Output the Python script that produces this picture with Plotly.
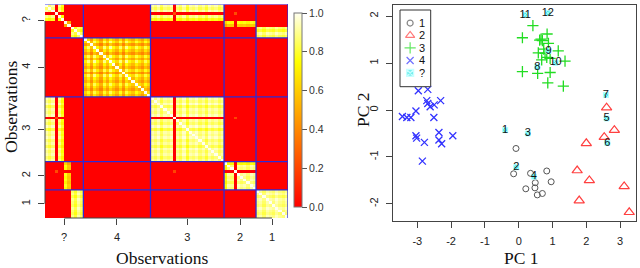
import numpy as np
import plotly.graph_objects as go

# ---------------- heatmap data (co-clustering similarity) ----------------
hm_groups = ["?", "4", "3", "2", "1"]
hm_sizes = [12, 21, 23, 10, 10]
clusters = ["1", "2", "3", "4", "odd"]

# main cluster + membership strength of every observation, heatmap order
unknown_main = ["3", "3", "3", "odd", "3", "3", "2", "2", "1", "1", "1", "1"]
unknown_strength = [0.96, 0.90, 0.97, 0.0, 0.93, 0.80, 0.80, 0.62, 0.92, 0.84, 0.96, 0.88]
g4_strength = [0.72, 0.90, 0.62, 0.95, 0.78, 0.60, 0.92, 0.70, 0.97, 0.80, 0.66,
               0.90, 0.62, 0.94, 0.78, 0.68, 0.88, 0.75, 0.64, 0.86, 0.72]
g3_strength = [0.97, 0.92, 0.99, 0.88, 0.96, 0.93, 0.98, 0.0, 0.95, 0.90, 0.99, 0.86,
               0.97, 0.94, 0.99, 0.91, 0.96, 0.88, 0.98, 0.93, 0.97, 0.90, 0.95]
g2_strength = [0.78, 0.95, 0.92, 0.0, 0.97, 0.93, 0.96, 0.90, 0.98, 0.94]
g1_strength = [0.93, 0.97, 0.90, 0.98, 0.95, 0.92, 0.99, 0.94, 0.91, 0.96]
# three atypical observations sharing a weak common membership
odd_obs = [3, 12 + 21 + 7, 12 + 21 + 23 + 3]
odd_strength = [0.50, 0.45, 0.45]

# ---------------- PCA scatter data ----------------
g1_x = [-0.08, -0.15, 0.35, 0.83, 0.49, 0.96, 0.48, 0.21, 0.55, 0.70]
g1_y = [-0.82, -1.36, -1.35, -1.30, -1.55, -1.53, -1.66, -1.68, -1.81, -1.78]
g2_x = [2.60, 2.83, 2.53, 2.00, 1.73, 2.09, 3.12, 1.79, 3.27]
g2_y = [0.05, -0.43, -0.58, -0.71, -1.29, -1.50, -1.63, -1.93, -2.18]
g3_x = [0.42, 0.11, 0.66, 0.70, 0.84, 0.62, 0.88, 0.58, 0.78, 1.17, 0.83, 1.37,
        0.68, 0.93, 0.11, 0.56, 0.93, 0.86, 1.32, 0.74]
g3_y = [1.80, 1.54, 1.51, 1.48, 1.62, 1.49, 1.42, 1.22, 1.21, 1.26, 1.12, 1.04,
        1.07, 1.10, 0.82, 0.78, 0.80, 0.58, 0.51, 1.30]
g4_x = [-2.97, -2.69, -2.72, -2.62, -2.50, -2.31, -2.69, -3.44, -3.31, -3.19, -3.04,
        -2.51, -3.04, -3.02, -2.79, -2.36, -2.36, -2.28, -1.95, -2.85]
g4_y = [0.41, 0.44, 0.20, 0.07, 0.11, 0.20, 0.14, -0.14, -0.16, -0.16, -0.02,
        -0.16, -0.55, -0.60, -0.69, -0.48, -0.64, -0.72, -0.55, -1.09]
unk_labels = ["1", "2", "3", "4", "5", "6", "7", "8", "9", "10", "11", "12"]
unk_x = [-0.40, -0.07, 0.27, 0.45, 2.60, 2.62, 2.58, 0.55, 0.88, 1.09, 0.19, 0.86]
unk_y = [-0.43, -1.22, -0.50, -1.42, -0.18, -0.70, 0.32, 0.92, 1.26, 1.01, 2.03, 2.07]

legend_labels = ["1", "2", "3", "4", "?"]

# ---------------- build similarity matrix ----------------
mains = unknown_main + ["4"] * hm_sizes[1] + ["3"] * hm_sizes[2] + ["2"] * hm_sizes[3] + ["1"] * hm_sizes[4]
strengths = unknown_strength + g4_strength + g3_strength + g2_strength + g1_strength
N = len(mains)
M = np.zeros((N, len(clusters)))
for i, (c, s) in enumerate(zip(mains, strengths)):
    M[i, clusters.index(c)] = s
for i, s in zip(odd_obs, odd_strength):
    M[i, clusters.index("odd")] = s
S = M @ M.T
np.fill_diagonal(S, 1.0)
S = np.clip(S, 0, 1)

starts = np.concatenate([[0], np.cumsum(hm_sizes)[:-1]])
centers = [float(st + (sz - 1) / 2) for st, sz in zip(starts, hm_sizes)]
edges = [float(st - 0.5) for st in starts] + [N - 0.5]

W, H = 640, 268
def px(x): return x / W
def py(y): return 1 - y / H

heat_scale = [[0.0, "#FF0000"], [0.375, "#FF8000"], [0.75, "#FFFF00"], [1.0, "#FFFFF0"]]

fig = go.Figure()
fig.add_trace(go.Heatmap(
    z=S, x=list(range(N)), y=list(range(N)), zmin=0, zmax=1,
    colorscale=heat_scale, xaxis="x", yaxis="y", hoverinfo="skip",
    colorbar=dict(thickness=8, thicknessmode="pixels", len=194 / H, lenmode="fraction",
                  x=px(294), xanchor="left", y=py(207), yanchor="bottom",
                  xpad=0, ypad=0, outlinewidth=1, outlinecolor="#777",
                  ticks="outside", ticklen=5, tickcolor="#555",
                  tickvals=[0, 0.2, 0.4, 0.6, 0.8, 1.0],
                  ticktext=["0.0", "0.2", "0.4", "0.6", "0.8", "1.0"],
                  tickfont=dict(family="Liberation Sans", size=10.5, color="#333")),
))

# scatter groups
fig.add_trace(go.Scatter(x=g1_x, y=g1_y, mode="markers", xaxis="x2", yaxis="y2",
                         marker=dict(symbol="circle-open", size=6, color="#555", line=dict(width=1))))
fig.add_trace(go.Scatter(x=g2_x, y=g2_y, mode="markers", xaxis="x2", yaxis="y2",
                         marker=dict(symbol="triangle-up-open", size=9, color="#FF4040", line=dict(width=1.2))))
fig.add_trace(go.Scatter(x=g3_x, y=g3_y, mode="markers", xaxis="x2", yaxis="y2",
                         marker=dict(symbol="cross-thin-open", size=8, color="#22DD22", line=dict(width=1.3))))
fig.add_trace(go.Scatter(x=g4_x, y=g4_y, mode="markers", xaxis="x2", yaxis="y2",
                         marker=dict(symbol="x-thin-open", size=7, color="#3333FF", line=dict(width=1.3))))
fig.add_trace(go.Scatter(x=unk_x, y=unk_y, mode="markers+text", xaxis="x2", yaxis="y2",
                         text=unk_labels, textposition="middle center",
                         textfont=dict(family="Liberation Sans", size=11, color="#111"),
                         marker=dict(symbol="square-x", size=5, color="#40E8E8",
                                     line=dict(width=1, color="#B0FFFF"))))

# manual legend (helper axes over legend box)
leg_y = [0.83, 0.668, 0.505, 0.342, 0.179]
fig.add_trace(go.Scatter(
    x=[0.33] * 5, y=leg_y, mode="markers", xaxis="x3", yaxis="y3", hoverinfo="skip",
    marker=dict(symbol=["circle-open", "triangle-up-open", "cross-thin-open", "x-thin-open", "square-x"],
                size=[6, 8, 8, 7, 7],
                color=["#555", "#FF4040", "#22DD22", "#3333FF", "#40E8E8"],
                line=dict(width=1.2, color=["#555", "#FF4040", "#22DD22", "#3333FF", "#B0FFFF"]))))

shapes = []
line_col = "#2B2BD9"
for e in edges[1:-1]:
    shapes.append(dict(type="line", xref="x", yref="y", x0=e, x1=e, y0=-0.5, y1=N - 0.5,
                       line=dict(color=line_col, width=1.3)))
    shapes.append(dict(type="line", xref="x", yref="y", y0=e, y1=e, x0=-0.5, x1=N - 0.5,
                       line=dict(color=line_col, width=1.3)))
shapes.append(dict(type="line", xref="x", yref="y", x0=-0.5, x1=N - 0.5, y0=-0.5, y1=-0.5,
                   line=dict(color="#8080FF", width=1.3)))
shapes.append(dict(type="line", xref="x", yref="y", x0=N - 0.5, x1=N - 0.5, y0=-0.5, y1=N - 0.5,
                   line=dict(color=line_col, width=1.3)))
# R-style axis lines spanning first to last tick
shapes.append(dict(type="line", xref="x", yref="y domain", x0=centers[0], x1=centers[-1], y0=0, y1=0,
                   line=dict(color="#444", width=1)))
shapes.append(dict(type="line", xref="x domain", yref="y", x0=0, x1=0, y0=centers[0], y1=centers[-1],
                   line=dict(color="#444", width=1)))
# legend box
shapes.append(dict(type="rect", xref="paper", yref="paper", x0=px(400), x1=px(430.7),
                   y0=py(86.7), y1=py(10), line=dict(color="#333", width=1), fillcolor="rgba(0,0,0,0)"))

tickfont = dict(family="Liberation Sans", size=11, color="#222")
titlefont = dict(family="Liberation Serif", size=17.5, color="#111")

annotations = [
    dict(text="Observations", xref="paper", yref="paper", x=px(162), y=py(258),
         showarrow=False, font=titlefont, xanchor="center", yanchor="middle"),
    dict(text="Observations", xref="paper", yref="paper", x=px(11), y=py(107),
         showarrow=False, font=titlefont, textangle=-90, xanchor="center", yanchor="middle"),
    dict(text="PC 1", xref="paper", yref="paper", x=px(521), y=py(258),
         showarrow=False, font=titlefont, xanchor="center", yanchor="middle"),
    dict(text="PC 2", xref="paper", yref="paper", x=px(363), y=py(110),
         showarrow=False, font=titlefont, textangle=-90, xanchor="center", yanchor="middle"),
]
for lab, yy in zip(legend_labels, leg_y):
    annotations.append(dict(text=lab, xref="x3", yref="y3", x=0.72, y=yy, showarrow=False,
                            font=dict(family="Liberation Sans", size=11, color="#111"),
                            xanchor="center", yanchor="middle"))

fig.update_layout(
    width=W, height=H, margin=dict(l=0, r=0, t=0, b=0),
    paper_bgcolor="white", plot_bgcolor="white", showlegend=False,
    shapes=shapes, annotations=annotations,
    xaxis=dict(domain=[px(45), px(288)], range=[-0.5, N - 0.5], showgrid=False, zeroline=False,
               anchor="y", tickvals=centers, ticktext=hm_groups, ticks="outside", ticklen=6,
               tickcolor="#444", tickfont=tickfont, ticklabelstandoff=3, showline=False),
    yaxis=dict(domain=[py(218), py(4)], range=[N - 0.5, -0.5], showgrid=False, zeroline=False,
               anchor="x", tickvals=centers, ticktext=hm_groups, ticks="outside", ticklen=6,
               tickcolor="#444", tickfont=tickfont, tickangle=-90, ticklabelstandoff=4, showline=False),
    xaxis2=dict(domain=[px(393.3), px(636)], range=[-3.71, 3.47], showgrid=False, zeroline=False,
                anchor="y2", tickvals=[-3, -2, -1, 0, 1, 2, 3],
                ticktext=["-3", "-2", "-1", "0", "1", "2", "3"],
                ticks="outside", ticklen=6, tickcolor="#444", tickfont=tickfont, ticklabelstandoff=4,
                showline=True, mirror=True, linecolor="#444", linewidth=1),
    yaxis2=dict(domain=[py(220.7), py(4.7)], range=[-2.36, 2.245], showgrid=False, zeroline=False,
                anchor="x2", tickvals=[-2, -1, 0, 1, 2], ticktext=["-2", "-1", "0", "1", "2"],
                ticks="outside", ticklen=6, tickcolor="#444", tickfont=tickfont, tickangle=-90,
                ticklabelstandoff=4, showline=True, mirror=True, linecolor="#444", linewidth=1),
    xaxis3=dict(domain=[px(400), px(430.7)], range=[0, 1], visible=False, anchor="y3"),
    yaxis3=dict(domain=[py(86.7), py(10)], range=[0, 1], visible=False, anchor="x3"),
)

fig.write_html("out.html", config={"displayModeBar": False},
               post_script="document.body.style.margin='0';document.body.style.overflow='hidden';")
